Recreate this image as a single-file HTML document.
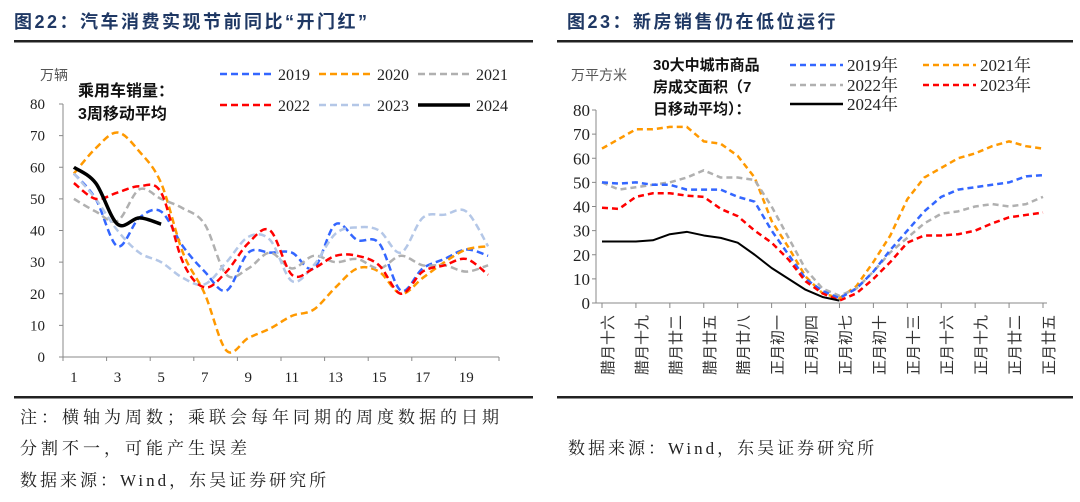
<!DOCTYPE html>
<html><head><meta charset="utf-8">
<style>
body{margin:0;background:#fff;width:1080px;height:497px;overflow:hidden;font-family:"Liberation Serif","Noto Serif CJK SC",serif;}
svg text{font-family:"Liberation Serif","Noto Serif CJK SC",serif;}
.t{font-family:"Liberation Sans","Noto Sans CJK SC",sans-serif;}
</style></head>
<body>
<svg id="s" width="1080" height="497" viewBox="0 0 1080 497" xmlns="http://www.w3.org/2000/svg">
<text x="14" y="28" font-size="18" font-weight="bold" fill="#1f3864" letter-spacing="2.5" class="t">图22：汽车消费实现节前同比“开门红”</text>
<text x="567" y="28" font-size="18" font-weight="bold" fill="#1f3864" letter-spacing="2.5" class="t">图23：新房销售仍在低位运行</text>
<rect x="14" y="40" width="519" height="2.5" fill="#222"/>
<rect x="557" y="40" width="516" height="2.5" fill="#222"/>
<rect x="14" y="396" width="519" height="2.5" fill="#222"/>
<rect x="557" y="396" width="516" height="2.5" fill="#222"/>
<text x="20" y="423" font-size="17" fill="#222" letter-spacing="4">注：横轴为周数；乘联会每年同期的周度数据的日期</text>
<text x="20" y="454" font-size="17" fill="#222" letter-spacing="4">分割不一，可能产生误差</text>
<text x="20" y="486" font-size="17" fill="#222" letter-spacing="3">数据来源：Wind，东吴证券研究所</text>
<text x="568" y="454" font-size="17" fill="#222" letter-spacing="3">数据来源：Wind，东吴证券研究所</text>

<g id="L"></g>
<g id="R"></g>
</svg>
<script>
// ---- Left chart data ----
const weekLabels = ["1","3","5","7","9","11","13","15","17","19"];
const leftYTicks = [0,10,20,30,40,50,60,70,80];
const car2019 = [58,50,35,44,46,35,27,21,33,33,33,28,42,37,36,21,28,31,34,32];
const car2020 = [58,66,71,65,55,33,20,2,6,9,13,15,22,28,27,20,25,30,34,35];
const car2021 = [50,46,43,53,50,47,42,26,28,33,28,32,30,31,28,32,29,29,27,29];
const car2022 = [55,50,52,54,52,30,22,27,36,40,26,28,32,32,29,20,27,29,31,26];
const car2023 = [58,50,40,33,30,25,23,30,38,37,24,29,39,41,40,33,44,45,46,35];
const car2024 = [60,55,42,44,42];

// ---- Right chart data ----
const dayLabels = ["腊月十六","腊月十九","腊月廿二","腊月廿五","腊月廿八","正月初一","正月初四","正月初七","正月初十","正月十三","正月十六","正月十九","正月廿二","正月廿五"];
const rightYTicks = [0,10,20,30,40,50,60,70,80];
const house2019 = [50,49.5,50,49,49,47,47,47,44,42,30,20,10,5,2,6,13,22,30,38,44,47,48,49,50,52.5,53];
const house2021 = [64,68,72,72,73,73,67,66,61,52,34,23,11,4,2,7,17,28,43,52,56,60,62,65,67,65,64];
const house2022 = [50,47,48,49,50,52,55,52,52,51,40,27,14,6,3,6,13,21,27,33,37,38,40,41,40,41,44];
const house2023 = [39.5,39,44,45.5,45.5,44.5,44,39,36,30,25,18,9,4,1,4,10,17,25,28,28,28.5,30,33,35.5,36.5,37.5];
const house2024 = [25.5,25.5,25.5,26,28.5,29.5,28,27,25,20,14.5,10,5.5,2.5,1];

const NS="http://www.w3.org/2000/svg";
function mk(parent,tag,attrs){const e=document.createElementNS(NS,tag);for(const k in attrs)e.setAttribute(k,attrs[k]);parent.appendChild(e);return e;}

// Left axes
const Lx0=63,Lx1=499,Ly0=357,Ly1=104;
const lx=i=>Lx0+(Lx1-Lx0)/20*(i+0.5);
const ly=v=>Ly0-(Ly0-Ly1)*v/80;
const L=document.getElementById('L');
let a=mk(L,'line',{x1:Lx0,y1:Ly1,x2:Lx0,y2:Ly0,stroke:'#888'});

a=mk(L,'line',{x1:Lx0,y1:Ly0,x2:Lx1,y2:Ly0,stroke:'#888'});

leftYTicks.forEach(v=>{
  const tk=mk(L,'line',{x1:Lx0-4,x2:Lx0,y1:ly(v),y2:ly(v),stroke:'#888'});
  
  const t=mk(L,'text',{x:Lx0-18,y:ly(v)+5,'font-size':15,'text-anchor':'end',fill:'#222'});t.textContent=v;
  
});
for(let k=0;k<=10;k++){const x=Lx0+(Lx1-Lx0)/10*k;
  const tk=mk(L,'line',{x1:x,x2:x,y1:Ly0,y2:Ly0+4,stroke:'#888'});
  }
weekLabels.forEach((s,j)=>{const t=mk(L,'text',{x:lx(j*2),y:382,'font-size':15,'text-anchor':'middle',fill:'#222'});t.textContent=s;
  });
function smooth(pts){let d='M'+pts[0][0]+','+pts[0][1];
  for(let i=0;i<pts.length-1;i++){const p0=pts[i-1]||pts[i],p1=pts[i],p2=pts[i+1],p3=pts[i+2]||p2;
    d+=` C${p1[0]+(p2[0]-p0[0])/6},${p1[1]+(p2[1]-p0[1])/6} ${p2[0]-(p3[0]-p1[0])/6},${p2[1]-(p3[1]-p1[1])/6} ${p2[0]},${p2[1]}`;}
  return d;}
const lseries=[[car2019,'#3366ff','car-2019-line',true],[car2020,'#ff9900','car-2020-line',true],[car2021,'#b0b0b0','car-2021-line',true],[car2023,'#b4c7e7','car-2023-line',true],[car2022,'#ff0000','car-2022-line',true],[car2024,'#000','car-2024-line',false]];
lseries.forEach(([d,c,n,dash])=>{
  const p=mk(L,'path',{d:smooth(d.map((v,i)=>[lx(i),ly(v)])),fill:'none',stroke:c,'stroke-width':dash?2.5:3.5,'stroke-dasharray':dash?'7,4':'none'});
  
});
let t=mk(L,'text',{x:40,y:80,'font-size':14,fill:'#555',class:'t'});t.textContent='万辆';

t=mk(L,'text',{x:78,y:96,'font-size':16,'font-weight':'bold',fill:'#111',class:'t'});t.textContent='乘用车销量：';

t=mk(L,'text',{x:78,y:119,'font-size':16,'font-weight':'bold',fill:'#111',class:'t'});t.textContent='3周移动平均';

const lleg=[['2019','#3366ff',220,80,true],['2020','#ff9900',319,80,true],['2021','#b0b0b0',418,80,true],['2022','#ff0000',220,111,true],['2023','#b4c7e7',319,111,true],['2024','#000',418,111,false]];
lleg.forEach(([s,c,x,y,dash])=>{
  const g=mk(L,'g',{});
  mk(g,'line',{x1:x,x2:x+52,y1:y-6,y2:y-6,stroke:c,'stroke-width':dash?2.5:3.5,'stroke-dasharray':dash?'7,4':'none'});
  const tt=mk(g,'text',{x:x+58,y:y,'font-size':16,fill:'#222'});tt.textContent=s;
});

// Right axes
const Rx0=602,Rx1=1043,Ry0=303,Ry1=110;
const rx=i=>Rx0+(Rx1-Rx0)/26*i;
const ry=v=>Ry0-(Ry0-Ry1)*v/80;
const R=document.getElementById('R');
a=mk(R,'line',{x1:Rx0-6,y1:Ry1,x2:Rx0-6,y2:Ry0,stroke:'#888'});

a=mk(R,'line',{x1:Rx0-6,y1:Ry0,x2:Rx1+4,y2:Ry0,stroke:'#888'});

rightYTicks.forEach(v=>{
  const tk=mk(R,'line',{x1:Rx0-10,x2:Rx0-6,y1:ry(v),y2:ry(v),stroke:'#888'});
  
  const tt=mk(R,'text',{x:Rx0-12,y:ry(v)+6,'font-size':17,'text-anchor':'end',fill:'#222'});tt.textContent=v;
  
});
dayLabels.forEach((s,k)=>{const x=rx(k*2);
  const tk=mk(R,'line',{x1:x,x2:x,y1:Ry0,y2:Ry0+5,stroke:'#888'});
  
  const tt=mk(R,'text',{x:0,y:0,'font-size':15,'text-anchor':'end',fill:'#333',transform:`translate(${x+11},315) rotate(-90)`,class:'t'});tt.textContent=s;
  
});
const rseries=[[house2021,'#ff9900','house-2021-line',true],[house2022,'#b0b0b0','house-2022-line',true],[house2019,'#3366ff','house-2019-line',true],[house2023,'#ff0000','house-2023-line',true],[house2024,'#000','house-2024-line',false]];
rseries.forEach(([d,c,n,dash])=>{
  const p=mk(R,'polyline',{points:d.map((v,i)=>rx(i)+','+ry(v)).join(' '),fill:'none',stroke:c,'stroke-width':dash?2.5:2,'stroke-dasharray':dash?'6,4':'none','stroke-linejoin':'round'});
  
});
t=mk(R,'text',{x:571,y:80,'font-size':14,fill:'#555',class:'t'});t.textContent='万平方米';

['30大中城市商品','房成交面积（7','日移动平均）：'].forEach((s,i)=>{
  const tt=mk(R,'text',{x:653,y:70+i*22,'font-size':15,'font-weight':'bold',fill:'#111',class:'t'});tt.textContent=s;
  
});
const rleg=[['2019年','#3366ff',790,71,true],['2021年','#ff9900',923,71,true],['2022年','#b0b0b0',790,91,true],['2023年','#ff0000',923,91,true],['2024年','#000',790,110,false]];
rleg.forEach(([s,c,x,y,dash])=>{
  const g=mk(R,'g',{});
  mk(g,'line',{x1:x,x2:x+53,y1:y-6,y2:y-6,stroke:c,'stroke-width':2.5,'stroke-dasharray':dash?'6,4':'none'});
  const tt=mk(g,'text',{x:x+57,y:y,'font-size':17,fill:'#222'});tt.textContent=s;
});
</script>
</body></html>
